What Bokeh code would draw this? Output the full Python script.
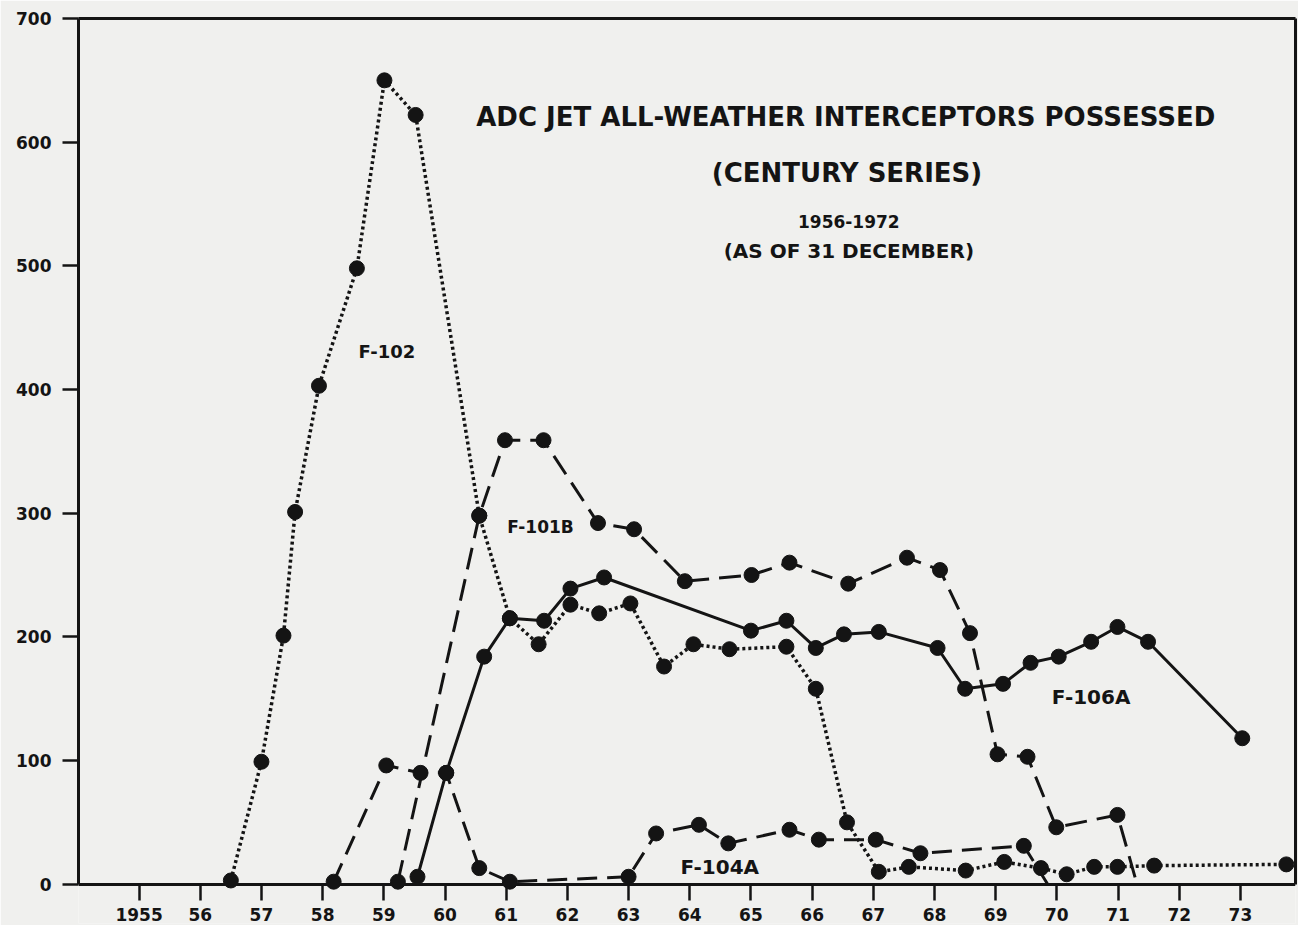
from bokeh.plotting import figure
from bokeh.models import Range1d, FixedTicker, LinearAxis, Label
from bokeh.embed import file_html
from bokeh.resources import INLINE

# ---------------- data ----------------
f102_x = [1956.5, 1957.0, 1957.36, 1957.55, 1957.94, 1958.56, 1959.01, 1959.52,
          1960.56, 1961.06, 1961.53, 1962.05, 1962.52, 1963.03, 1963.58, 1964.06,
          1964.65, 1965.58, 1966.06, 1966.57, 1967.09, 1967.58, 1968.51, 1969.14,
          1969.74, 1970.16, 1970.61, 1970.99, 1971.59, 1973.75]
f102_y = [3, 99, 201, 301, 403, 498, 650, 622,
          298, 215, 194, 226, 219, 227, 176, 194,
          190, 192, 158, 50, 10, 14, 11, 18,
          13, 8, 14, 14, 15, 16]

# last value is where the line ends (no marker)
f101b_x = [1959.23, 1960.56, 1960.98, 1961.61, 1962.5, 1963.09, 1963.92, 1965.01,
           1965.63, 1966.59, 1967.55, 1968.09, 1968.58, 1969.03, 1969.52, 1969.99,
           1970.99, 1971.31]
f101b_y = [2, 298, 359, 359, 292, 287, 245, 250,
           260, 243, 264, 254, 203, 105, 103, 46,
           56, 0]

f106a_x = [1959.55, 1960.02, 1960.64, 1961.06, 1961.62, 1962.05, 1962.6, 1965.0,
           1965.58, 1966.06, 1966.52, 1967.09, 1968.05, 1968.5, 1969.12, 1969.57,
           1970.03, 1970.56, 1970.99, 1971.49, 1973.03]
f106a_y = [6, 90, 184, 215, 213, 239, 248, 205,
           213, 191, 202, 204, 191, 158, 162, 179,
           184, 196, 208, 196, 118]

# last value is where the line ends (no marker)
f104a_x = [1958.18, 1959.04, 1959.6, 1960.02, 1960.56, 1961.06, 1963.0, 1963.45,
           1964.15, 1964.63, 1965.63, 1966.11, 1967.04, 1967.77, 1969.46, 1969.85]
f104a_y = [2, 96, 90, 90, 13, 2, 6, 41,
           48, 33, 44, 36, 36, 25, 31, 0]

x_ticks = list(range(1955, 1974))
x_tick_labels = ["1955"] + [str(y)[2:] for y in range(1956, 1974)]
y_ticks = [0, 100, 200, 300, 400, 500, 600, 700]

title_lines = ["ADC JET ALL-WEATHER INTERCEPTORS POSSESSED", "(CENTURY SERIES)",
               "1956-1972", "(AS OF 31 DECEMBER)"]
series_names = ["F-102", "F-101B", "F-106A", "F-104A"]

# ---------------- styling ----------------
BG = "#f0f0ee"
INK = "#141414"
FONT = "DejaVu Sans"

p = figure(width=1298, height=925, output_backend="svg", toolbar_location=None,
           x_range=Range1d(1954.01, 1973.9), y_range=Range1d(-31.8, 700),
           min_border_left=78, min_border_right=3, min_border_top=18, min_border_bottom=2,
           background_fill_color=BG, border_fill_color=BG)
p.grid.visible = False
p.outline_line_color = None

# bottom axis sits at value 0
xa = p.xaxis[0]
xa.fixed_location = 0
xa.ticker = FixedTicker(ticks=x_ticks)
xa.major_label_overrides = {t: l for t, l in zip(x_ticks, x_tick_labels)}
xa.axis_line_width = 3
xa.axis_line_color = INK
xa.major_tick_line_width = 2.5
xa.major_tick_line_color = INK
xa.major_tick_out = 16
xa.major_tick_in = 0
xa.minor_tick_line_color = None
xa.major_label_standoff = 8
xa.major_label_text_font = FONT
xa.major_label_text_font_style = "bold"
xa.major_label_text_font_size = "17px"
xa.major_label_text_color = INK

ya = p.yaxis[0]
ya.bounds = (0, 700)
ya.ticker = FixedTicker(ticks=y_ticks)
ya.axis_line_width = 3
ya.axis_line_color = INK
ya.major_tick_line_width = 2.5
ya.major_tick_line_color = INK
ya.major_tick_out = 16
ya.major_tick_in = 0
ya.minor_tick_line_color = None
ya.major_label_standoff = 11
ya.major_label_text_font = FONT
ya.major_label_text_font_style = "bold"
ya.major_label_text_font_size = "17px"
ya.major_label_text_color = INK

# frame lines on top and right
top = LinearAxis(ticker=FixedTicker(ticks=[]), axis_line_width=3, axis_line_color=INK,
                 major_tick_line_color=None, minor_tick_line_color=None,
                 major_label_text_font_size="0px")
p.add_layout(top, "above")
right = LinearAxis(ticker=FixedTicker(ticks=[]), bounds=(0, 700), axis_line_width=3,
                   axis_line_color=INK, major_tick_line_color=None,
                   minor_tick_line_color=None, major_label_text_font_size="0px")
p.add_layout(right, "right")

MS = 15
# F-102 dotted
p.line(f102_x, f102_y, line_color=INK, line_width=3.5, line_dash="3 3")
p.scatter(f102_x, f102_y, size=MS, color=INK)
# F-101B long dashes
p.line(f101b_x, f101b_y, line_color=INK, line_width=3, line_dash="22 10")
p.scatter(f101b_x[:-1], f101b_y[:-1], size=MS, color=INK)
# F-106A solid
p.line(f106a_x, f106a_y, line_color=INK, line_width=3)
p.scatter(f106a_x, f106a_y, size=MS, color=INK)
# F-104A dashes
p.line(f104a_x, f104a_y, line_color=INK, line_width=3, line_dash="20 10")
p.scatter(f104a_x[:-1], f104a_y[:-1], size=MS, color=INK)

# titles
title_pos = [(1966.55, 620, "26px"), (1966.57, 575, "26px"),
             (1966.6, 536, "17px"), (1966.6, 512, "20px")]
for txt, (x, y, fs) in zip(title_lines, title_pos):
    p.add_layout(Label(x=x, y=y, text=txt, text_align="center", text_baseline="middle",
                       text_font=FONT, text_font_style="bold", text_font_size=fs,
                       text_color=INK))

name_pos = [(1959.05, 431, "18px"), (1961.56, 289, "17px"),
            (1970.56, 151, "20px"), (1964.49, 14, "20px")]
for txt, (x, y, fs) in zip(series_names, name_pos):
    p.add_layout(Label(x=x, y=y, text=txt, text_align="center", text_baseline="middle",
                       text_font=FONT, text_font_style="bold", text_font_size=fs,
                       text_color=INK))

open("out.html", "w").write(file_html(p, INLINE))
